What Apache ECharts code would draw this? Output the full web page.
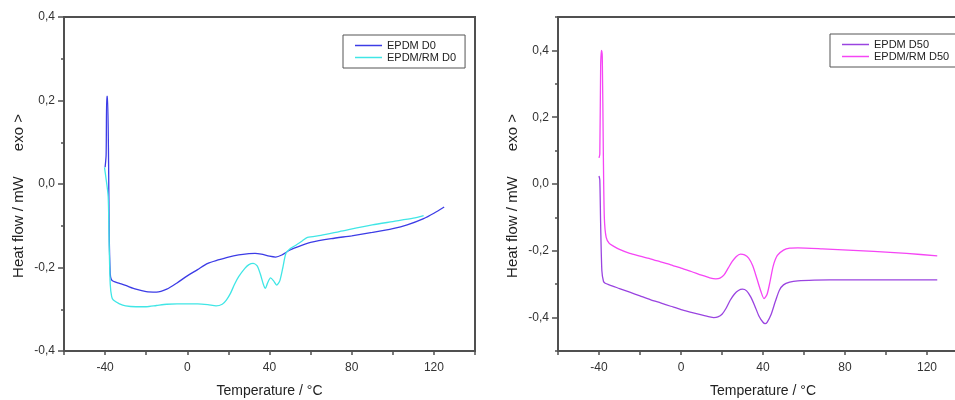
<!DOCTYPE html>
<html>
<head>
<meta charset="utf-8">
<script src="https://cdn.jsdelivr.net/npm/echarts@6/dist/echarts.min.js"></script>
<style>
	html, body { margin: 0; padding: 0; background: #fff; }
	#main { width: 955px; height: 400px; }
</style>
</head>
<body>
<div id="main"></div>
<script>
// EPDM D0
var d0Temp = [-40, -39.5, -39.2, -38.8, -38.3, -38, -37.5, -37, -36, -33, -30, -25, -20, -15, -10, -5, 0, 5, 10, 15, 20, 25, 30, 33, 36, 40, 43, 46, 50, 55, 60, 70, 80, 90, 100, 107, 115, 120, 125];
var d0Flow = [0.04, 0.07, 0.21, 0.21, 0.05, -0.12, -0.215, -0.228, -0.233, -0.238, -0.243, -0.252, -0.258, -0.259, -0.252, -0.237, -0.22, -0.205, -0.19, -0.182, -0.175, -0.17, -0.167, -0.166, -0.168, -0.173, -0.175, -0.17, -0.158, -0.148, -0.14, -0.131, -0.124, -0.116, -0.107, -0.098, -0.083, -0.07, -0.055];

// EPDM/RM D0
var rmD0Temp = [-40.3, -39.6, -38.5, -38, -37.5, -36.8, -36, -33, -30, -25, -20, -15, -10, -5, 0, 5, 10, 14, 17, 19, 21, 23, 25, 28, 30, 32, 34, 35.5, 37, 38, 39, 40.5, 42, 43.5, 45, 46.5, 48, 50, 53, 56, 58.5, 65, 74, 90, 100, 110, 115];
var rmD0Flow = [0.04, 0.015, -0.03, -0.15, -0.24, -0.27, -0.278, -0.287, -0.292, -0.294, -0.294, -0.291, -0.288, -0.287, -0.287, -0.287, -0.289, -0.292, -0.288, -0.278, -0.262, -0.24, -0.222, -0.202, -0.193, -0.19, -0.196, -0.215, -0.24, -0.25, -0.238, -0.225, -0.232, -0.242, -0.232, -0.2, -0.166, -0.155, -0.146, -0.136, -0.128, -0.123, -0.114, -0.098, -0.09, -0.082, -0.076];

// EPDM D50
var d50Temp = [-40, -39.6, -39.2, -38.6, -37.8, -37, -35, -30, -25, -20, -15, -10, -5, 0, 5, 10, 14, 16, 18, 20, 22, 24, 26, 28, 30, 32, 34, 36, 38, 40, 41, 42, 44, 46, 48, 50, 53, 57, 65, 80, 100, 125];
var d50Flow = [0.024, 0.012, -0.12, -0.26, -0.292, -0.297, -0.302, -0.313, -0.324, -0.335, -0.346, -0.356, -0.366, -0.376, -0.384, -0.392, -0.398, -0.4, -0.398, -0.39, -0.372, -0.348, -0.33, -0.319, -0.315, -0.32, -0.338, -0.365, -0.395, -0.414, -0.418, -0.414, -0.39, -0.352, -0.318, -0.302, -0.294, -0.29, -0.288, -0.287, -0.287, -0.287];

// EPDM/RM D50
var rmD50Temp = [-40, -39.6, -39.2, -38.8, -38.4, -37.9, -37.4, -36.5, -35, -33, -30, -25, -20, -15, -10, -5, 0, 5, 10, 14, 17, 19, 21, 23, 25, 27, 29, 31, 33, 35, 37, 39, 40.5, 42, 43.5, 45, 47, 50, 53, 57, 69, 94, 110, 125];
var rmD50Flow = [0.078, 0.09, 0.35, 0.40, 0.38, 0.1, -0.1, -0.16, -0.178, -0.186, -0.196, -0.208, -0.216, -0.224, -0.233, -0.242, -0.252, -0.262, -0.273, -0.281, -0.284, -0.282, -0.272, -0.252, -0.232, -0.217, -0.21, -0.212, -0.222, -0.245, -0.283, -0.322, -0.343, -0.33, -0.29, -0.245, -0.214, -0.198, -0.192, -0.191, -0.194, -0.202, -0.208, -0.215];

var yMajorTicks = [-0.4, -0.2, 0, 0.2, 0.4];
var xLabelTicks = [-40, 0, 40, 80, 120];

function pairs(xs, ys) {
	var out = [];
	for (var i = 0; i < xs.length; i++) out.push([xs[i], ys[i]]);
	return out;
}

var axisColor = '#505050';
var labelFont = 'Liberation Sans';

var myChart = echarts.init(document.getElementById('main'));

function xAxisFor(idx) {
	return {
		type: 'value',
		gridIndex: idx,
		min: -60,
		max: 140,
		interval: 20,
		name: 'Temperature / °C',
		nameLocation: 'middle',
		nameGap: 33,
		nameTextStyle: { fontFamily: labelFont, fontSize: 14, color: '#222' },
		axisLine: { onZero: false, lineStyle: { color: axisColor, width: 2 } },
		axisTick: { length: 4, lineStyle: { color: axisColor, width: 1.5 } },
		axisLabel: {
			margin: 11,
			fontFamily: labelFont, fontSize: 12, color: '#333',
			customValues: xLabelTicks
		},
		splitLine: { show: false }
	};
}

// short ticks every 0.1
function yMinorAxis(idx, min, max) {
	return {
		type: 'value',
		gridIndex: idx,
		min: min,
		max: max,
		interval: 0.1,
		position: 'left',
		axisLine: { show: false, onZero: false },
		axisTick: { show: true, length: 3, lineStyle: { color: axisColor, width: 1.5 } },
		axisLabel: { show: false },
		splitLine: { show: false }
	};
}

// long ticks + labels every 0.2
function yMajorAxis(idx, min, max) {
	return {
		type: 'value',
		gridIndex: idx,
		min: min,
		max: max,
		interval: 0.1,
		position: 'left',
		name: 'Heat flow / mW      exo >',
		nameLocation: 'middle',
		nameGap: 38,
		nameTextStyle: { fontFamily: labelFont, fontSize: 15, color: '#222', padding: [0, 24, 0, 0] },
		axisLine: { onZero: false, lineStyle: { color: axisColor, width: 2 } },
		axisTick: { length: 6, customValues: yMajorTicks, lineStyle: { color: axisColor, width: 1.5 } },
		axisLabel: {
			margin: 9,
			fontFamily: labelFont, fontSize: 12, color: '#333',
			customValues: yMajorTicks,
			formatter: function(v) { return v.toFixed(1).replace('.', ','); }
		},
		splitLine: { show: false }
	};
}

function lineSeries(name, xIdx, yIdx, color, data) {
	return {
		name: name,
		type: 'line',
		xAxisIndex: xIdx,
		yAxisIndex: yIdx,
		showSymbol: false,
		smooth: 0.25,
		color: color,
		lineStyle: { color: color, width: 1.3 },
		data: data
	};
}

function legendAt(left, top, names) {
	return {
		left: left,
		top: top,
		orient: 'vertical',
		data: names,
		icon: 'rect',
		itemWidth: 27,
		itemHeight: 1.5,
		itemGap: 1,
		padding: [5, 9, 5, 12],
		borderColor: '#555',
		borderWidth: 1,
		textStyle: { fontFamily: labelFont, fontSize: 11, color: '#222' }
	};
}

var option = {
	animation: false,
	backgroundColor: '#fff',
	grid: [
		{ left: 64, top: 17, width: 411, height: 334, outerBoundsMode: 'none', show: true, borderColor: axisColor, borderWidth: 2, backgroundColor: 'transparent' },
		{ left: 558, top: 17, width: 410, height: 334, outerBoundsMode: 'none', show: true, borderColor: axisColor, borderWidth: 2, backgroundColor: 'transparent' }
	],
	legend: [
		legendAt(343, 35, ['EPDM D0', 'EPDM/RM D0']),
		legendAt(830, 34, ['EPDM D50', 'EPDM/RM D50'])
	],
	xAxis: [xAxisFor(0), xAxisFor(1)],
	yAxis: [
		yMinorAxis(0, -0.4, 0.4),
		yMajorAxis(0, -0.4, 0.4),
		yMinorAxis(1, -0.5, 0.5),
		yMajorAxis(1, -0.5, 0.5)
	],
	series: [
		lineSeries('EPDM D0', 0, 1, '#3c3ce6', pairs(d0Temp, d0Flow)),
		lineSeries('EPDM/RM D0', 0, 1, '#40e6e6', pairs(rmD0Temp, rmD0Flow)),
		lineSeries('EPDM D50', 1, 3, '#9a44e0', pairs(d50Temp, d50Flow)),
		lineSeries('EPDM/RM D50', 1, 3, '#f545f5', pairs(rmD50Temp, rmD50Flow))
	]
};

myChart.setOption(option, true);
window.onresize = function() {
	myChart.resize();
};
</script>
</body>
</html>
